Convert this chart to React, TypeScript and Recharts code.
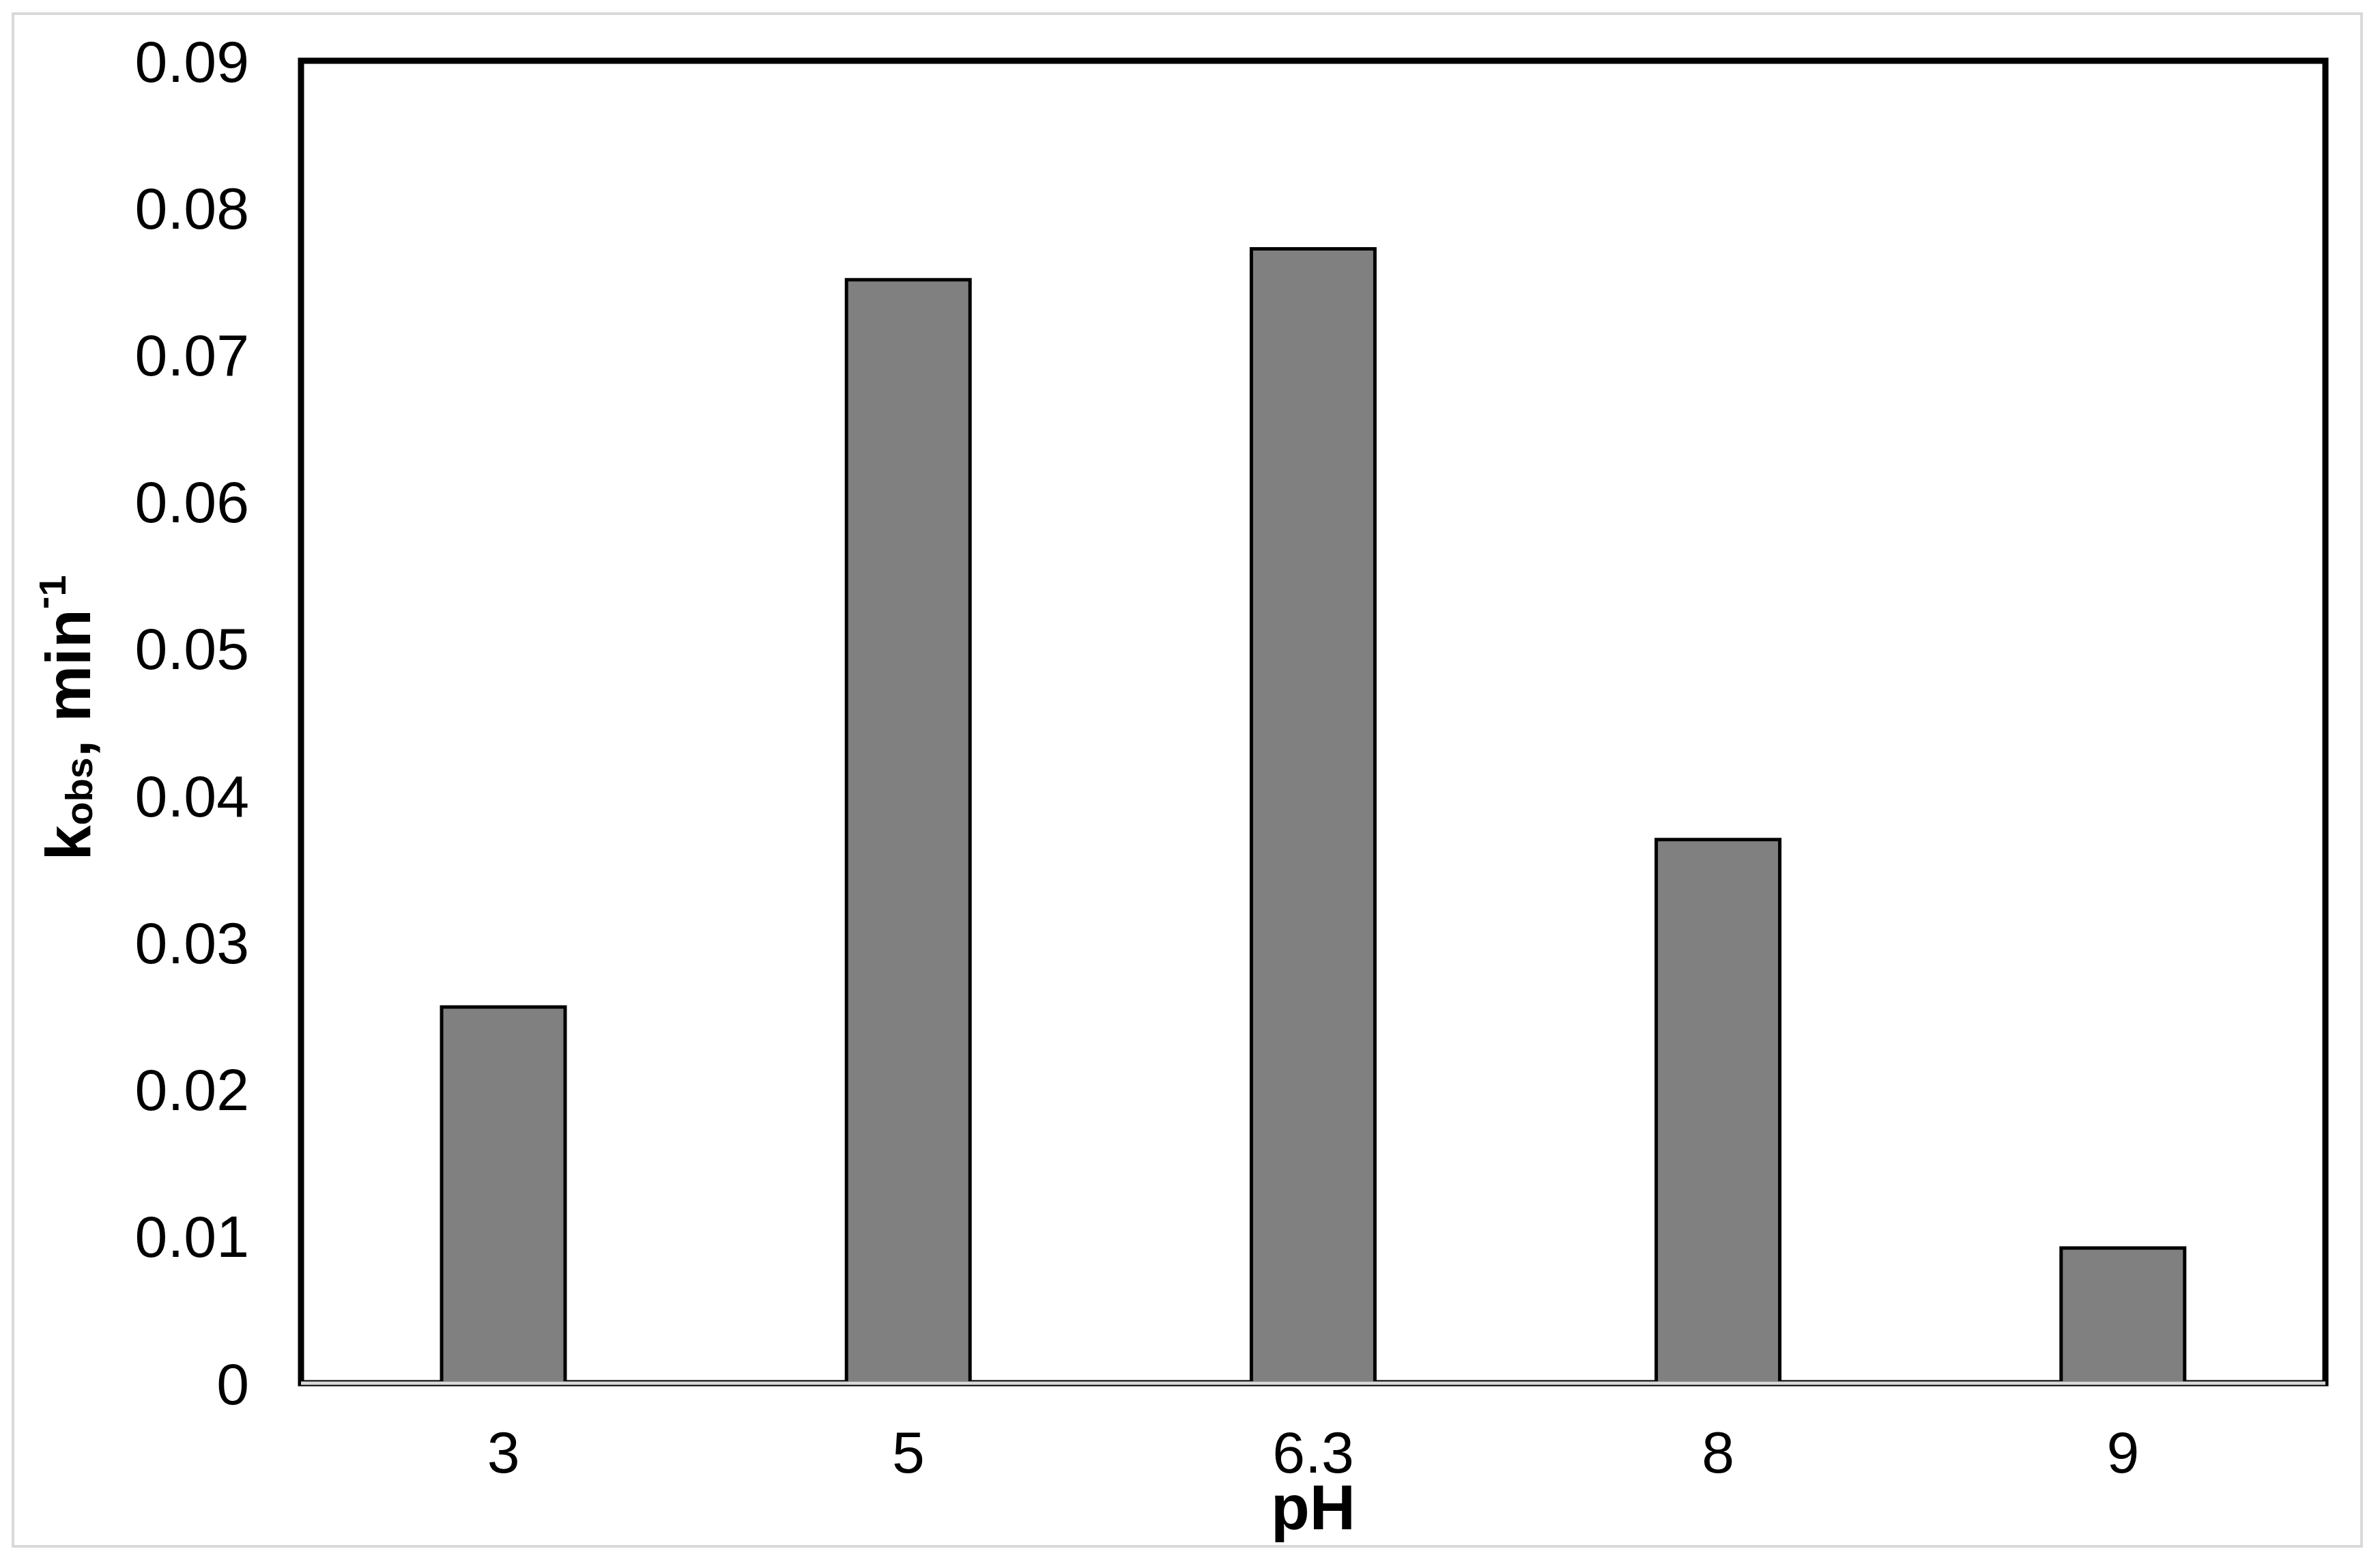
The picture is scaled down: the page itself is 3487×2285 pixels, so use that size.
import { BarChart, Bar, XAxis, YAxis, ReferenceArea } from 'recharts';

const phLabels = ['3', '5', '6.3', '8', '9'];
const kObs = [0.0256, 0.0751, 0.0772, 0.037, 0.0092];
const yTicks = [0, 0.01, 0.02, 0.03, 0.04, 0.05, 0.06, 0.07, 0.08, 0.09];

const data = phLabels.map((ph, i) => ({ ph, k: kObs[i] }));

const FONT = '"Liberation Sans", Arial, Helvetica, sans-serif';

const YTitle = (props: any) => {
  const vb = props.viewBox ?? { x: 0, y: 89, width: 441, height: 1937 };
  const x = vb.x + 132;
  const cy = vb.y + vb.height / 2 - 6;
  return (
    <text
      x={x}
      y={cy}
      transform={`rotate(-90, ${x}, ${cy})`}
      textAnchor="middle"
      fontFamily={FONT}
      fontWeight="bold"
      fontSize={93}
      fill="#000"
    >
      k
      <tspan fontSize={56} dy={3}>obs</tspan>
      <tspan dy={-3}>, min</tspan>
      <tspan fontSize={56} dy={-50}>-</tspan>
      <tspan fontSize={56} dy={14}>1</tspan>
    </text>
  );
};

const XTitle = (props: any) => {
  const vb = props.viewBox ?? { x: 441, y: 2026, width: 2966, height: 259 };
  return (
    <text
      x={vb.x + vb.width / 2}
      y={vb.y + 214}
      textAnchor="middle"
      fontFamily={FONT}
      fontWeight="bold"
      fontSize={93}
      fill="#000"
    >
      pH
    </text>
  );
};

export default function App() {
  return (
    <div style={{ position: 'absolute', left: 0, top: 0, width: 3487, height: 2285, background: '#fff' }}>
      <div
        style={{
          position: 'absolute',
          left: 17,
          top: 18,
          width: 3445,
          height: 2249,
          boxSizing: 'border-box',
          border: '4px solid #d9d9d9',
        }}
      />
      <div style={{ position: 'absolute', left: 0, top: 0 }}>
        <BarChart
          width={3487}
          height={2285}
          data={data}
          margin={{ top: 89, right: 80, bottom: 0, left: 0 }}
        >
          <ReferenceArea
            y1={0}
            y2={0.09}
            fill="none"
            stroke="#000"
            strokeWidth={9}
            ifOverflow="visible"
          />
          <XAxis
            dataKey="ph"
            height={259}
            tickSize={0}
            tickMargin={70}
            tickLine={false}
            axisLine={{ stroke: '#d9d9d9', strokeWidth: 5 }}
            tick={{ fontFamily: FONT, fontSize: 86, fill: '#000' }}
            interval={0}
            label={{ content: (p: any) => <XTitle {...p} /> }}
          />
          <YAxis
            width={441}
            domain={[0, 0.09]}
            ticks={yTicks}
            tickSize={0}
            tickMargin={76}
            tickLine={false}
            axisLine={false}
            tickFormatter={(v: number) => (v === 0 ? '0' : v.toFixed(2))}
            tick={{ fontFamily: FONT, fontSize: 86, fill: '#000' }}
            label={{ content: (p: any) => <YTitle {...p} /> }}
          />
          <Bar
            dataKey="k"
            fill="#808080"
            stroke="#000"
            strokeWidth={5}
            barSize={181}
            isAnimationActive={false}
          />
        </BarChart>
      </div>
    </div>
  );
}
